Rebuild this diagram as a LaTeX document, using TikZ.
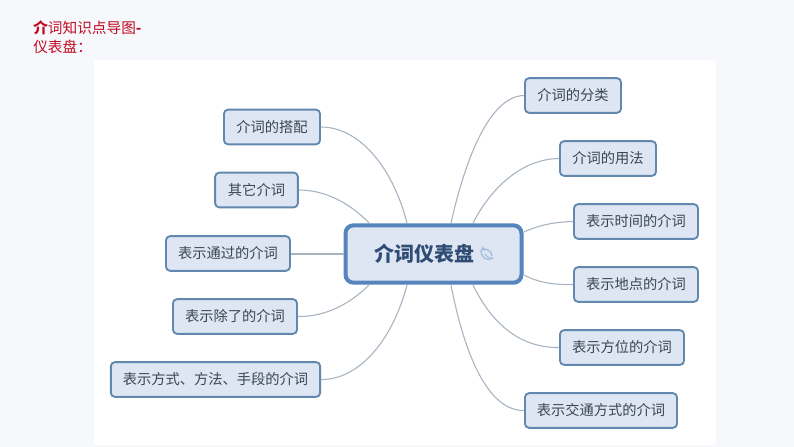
\documentclass[tikz,border=0pt]{standalone}
\usepackage{fontspec}
\usetikzlibrary{arrows.meta}
\setmainfont{Noto Sans CJK SC}
\definecolor{pagebg}{HTML}{F7F8FB}
\definecolor{boxfill}{HTML}{DDE6F2}
\definecolor{boxedge}{HTML}{6388AE}
\definecolor{mainedge}{HTML}{5684BC}
\definecolor{linkc}{HTML}{A6B3C0}
\definecolor{txt}{HTML}{3B4654}
\definecolor{maintxt}{HTML}{2F4C74}
\definecolor{titlered}{HTML}{C00A22}
\definecolor{iconc}{HTML}{9DBBDF}
\tikzset{
  x=0.75pt,y=-0.75pt,
  topic/.style={draw=boxedge,fill=boxfill,line width=1.4pt,rounded corners=3pt,
    inner sep=0pt,text=txt,font=\fontsize{10.7pt}{12pt}\selectfont,minimum height=26pt},
  maintopic/.style={draw=mainedge,fill=boxfill,line width=3pt,rounded corners=6pt,
    inner sep=0pt,minimum width=132pt,minimum height=43pt},
  link/.style={draw=linkc,line width=0.8pt},
  titletext/.style={text=titlered,font=\fontsize{11pt}{14pt}\selectfont,anchor=west,inner sep=0pt}
}
\begin{document}
\begin{tikzpicture}
\useasboundingbox (0,0) rectangle (794,447);
\fill[pagebg] (0,0) rectangle (794,447);
\fill[white] (94,60) rectangle (716,445);
\node[titletext] (t1) at (33,28) {{\bfseries 介}词知识点导图{\bfseries -}};
\node[titletext] (t2) at (33,47) {仪表盘：};
\node[maintopic] (c) at (433.5,254) {};
\node[text=maintxt,font=\fontsize{15pt}{18pt}\selectfont\bfseries,inner sep=0pt,anchor=west] (ct) at (374,254) {介词仪表盘};
\coordinate (ic) at (486,255);
\draw[iconc,line width=0.9pt] ([shift={(-5,-5)}]ic) .. controls ([shift={(-5,2)}]ic) and ([shift={(0,7)}]ic) .. ([shift={(7,3)}]ic);
\draw[iconc,line width=0.9pt,{Stealth[length=3pt,width=4pt]}-] ([shift={(-5,-5)}]ic) .. controls ([shift={(-1,-7)}]ic) and ([shift={(6,-4)}]ic) .. ([shift={(6,1)}]ic);
\draw[iconc,line width=0.7pt] ([shift={(-1,-1)}]ic) .. controls ([shift={(0,2)}]ic) and ([shift={(3,3)}]ic) .. ([shift={(7,3)}]ic);
% right
\node[topic,minimum width=72pt] (r1) at (573,95.5) {介词的分类};
\node[topic,minimum width=72pt] (r2) at (608,158.5) {介词的用法};
\node[topic,minimum width=93pt] (r3) at (636,221.5) {表示时间的介词};
\node[topic,minimum width=93pt] (r4) at (636,284.5) {表示地点的介词};
\node[topic,minimum width=93pt] (r5) at (622,347.5) {表示方位的介词};
\node[topic,minimum width=114pt] (r6) at (601,410.5) {表示交通方式的介词};
% left
\node[topic,minimum width=72pt] (l1) at (272,127) {介词的搭配};
\node[topic,minimum width=62pt] (l2) at (256.5,190) {其它介词};
\node[topic,minimum width=93pt] (l3) at (228,253.5) {表示通过的介词};
\node[topic,minimum width=93pt] (l4) at (235,316.5) {表示除了的介词};
\node[topic,minimum width=157pt] (l5) at (215.5,379.5) {表示方式、方法、手段的介词};
% anchors on the main topic
\coordinate (a1) at (451,223);
\coordinate (a2) at (473,223);
\coordinate (a3) at (524,232);
\coordinate (a4) at (524,275);
\coordinate (a5) at (473,285);
\coordinate (a6) at (451,285);
\coordinate (b1) at (407,223);
\coordinate (b2) at (369,223);
\coordinate (b4) at (369,285);
\coordinate (b5) at (407,285);
\draw[link] (a1) .. controls (464,165) and (488,96) .. (r1.west);
\draw[link] (a2) .. controls (490,190) and (520,159) .. (r2.west);
\draw[link] (a3) .. controls (537,226) and (552,222) .. (r3.west);
\draw[link] (a4) .. controls (537,282) and (552,285) .. (r4.west);
\draw[link] (a5) .. controls (490,320) and (517,348) .. (r5.west);
\draw[link] (a6) .. controls (462,342) and (484,411) .. (r6.west);
\draw[link] (b1) .. controls (392,165) and (358,127) .. (l1.east);
\draw[link] (b2) .. controls (350,203) and (325,190) .. (l2.east);
\draw[link] (c.west) -- (l3.east |- c.west);
\draw[link] (b4) .. controls (350,304) and (325,317) .. (l4.east);
\draw[link] (b5) .. controls (392,342) and (358,380) .. (l5.east);
\end{tikzpicture}
\end{document}
